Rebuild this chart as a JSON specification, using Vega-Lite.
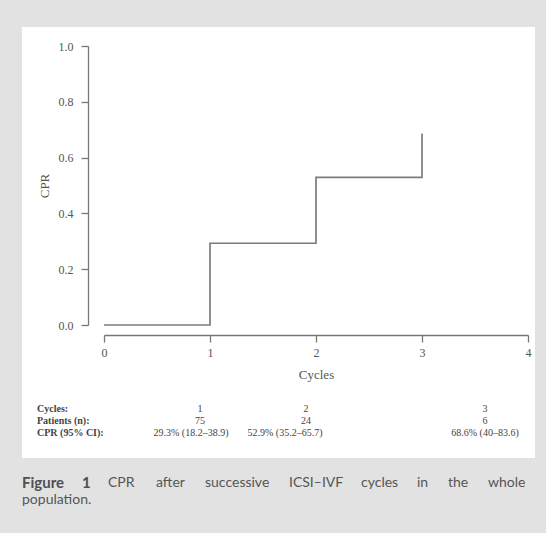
{
  "$schema": "https://vega.github.io/schema/vega-lite/v6.json",
  "width": 513,
  "height": 431,
  "autosize": {"type": "none"},
  "padding": {"left": 22, "top": 27, "right": 11, "bottom": 75},
  "background": "#e2e2e2",
  "config": {
    "view": {"fill": "white", "stroke": null},
    "axis": {
      "grid": false,
      "domainColor": "#777777",
      "domainWidth": 1.3,
      "tickColor": "#777777",
      "tickWidth": 1.3,
      "tickSize": 7,
      "labelColor": "#555555",
      "labelFont": "Liberation Serif",
      "labelFontSize": 12,
      "labelFlush": false,
      "labelOverlap": false,
      "titleColor": "#555555",
      "titleFont": "Liberation Serif",
      "titleFontSize": 13,
      "titleFontWeight": "normal"
    }
  },
  "datasets": {
    "cpr": [
      {"cycle": 0, "cpr": 0},
      {"cycle": 1, "cpr": 0.293},
      {"cycle": 2, "cpr": 0.529},
      {"cycle": 3, "cpr": 0.686}
    ],
    "counts": [
      {"row": "Cycles:", "cycle": 1, "value": "1"},
      {"row": "Cycles:", "cycle": 2, "value": "2"},
      {"row": "Cycles:", "cycle": 3, "value": "3"},
      {"row": "Patients (n):", "cycle": 1, "value": "75"},
      {"row": "Patients (n):", "cycle": 2, "value": "24"},
      {"row": "Patients (n):", "cycle": 3, "value": "6"}
    ],
    "rates": [
      {"row": "CPR (95% CI):", "cycle": 1, "value": "29.3% (18.2–38.9)"},
      {"row": "CPR (95% CI):", "cycle": 2, "value": "52.9% (35.2–65.7)"},
      {"row": "CPR (95% CI):", "cycle": 3, "value": "68.6% (40–83.6)"}
    ],
    "rows": [
      {"row": "Cycles:"},
      {"row": "Patients (n):"},
      {"row": "CPR (95% CI):"}
    ],
    "caption": [
      {"line": 1, "word": 1, "text": "Figure", "bold": true},
      {"line": 1, "word": 2, "text": "1", "bold": true},
      {"line": 1, "word": 3, "text": "CPR", "bold": false},
      {"line": 1, "word": 4, "text": "after", "bold": false},
      {"line": 1, "word": 5, "text": "successive", "bold": false},
      {"line": 1, "word": 6, "text": "ICSI–IVF", "bold": false},
      {"line": 1, "word": 7, "text": "cycles", "bold": false},
      {"line": 1, "word": 8, "text": "in", "bold": false},
      {"line": 1, "word": 9, "text": "the", "bold": false},
      {"line": 1, "word": 10, "text": "whole", "bold": false},
      {"line": 2, "word": 1, "text": "population.", "bold": false}
    ]
  },
  "layer": [
    {
      "data": {"name": "cpr"},
      "mark": {"type": "line", "interpolate": "step-after", "color": "#7c7c7c", "strokeWidth": 1.7},
      "encoding": {
        "x": {
          "field": "cycle",
          "type": "quantitative",
          "scale": {"domain": [0, 4], "range": [82, 506], "nice": false, "zero": false},
          "axis": {"values": [0, 1, 2, 3, 4], "format": "d", "title": "Cycles", "offset": -123, "labelPadding": 5, "titlePadding": 10}
        },
        "y": {
          "field": "cpr",
          "type": "quantitative",
          "scale": {"domain": [0, 1], "range": [298, 19], "nice": false},
          "axis": {"values": [0, 0.2, 0.4, 0.6, 0.8, 1], "format": ".1f", "title": "CPR", "offset": -66, "labelPadding": 8, "titlePadding": 7}
        }
      }
    },
    {
      "layer": [
        {
          "layer": [
            {
              "data": {"name": "rows"},
              "mark": {"type": "text", "align": "left", "baseline": "middle", "font": "Liberation Serif", "fontSize": 10, "fontWeight": "bold", "color": "#444444"},
              "encoding": {
                "x": {"datum": 0, "type": "quantitative", "scale": {"domain": [0, 1, 2, 3], "range": [15, 178, 284, 463]}, "axis": null},
                "y": {"field": "row", "type": "ordinal", "sort": null, "scale": {"type": "point", "domain": ["Cycles:", "Patients (n):", "CPR (95% CI):"], "range": [382, 406], "padding": 0}, "axis": null},
                "text": {"field": "row"}
              }
            },
            {
              "data": {"name": "counts"},
              "mark": {"type": "text", "align": "center", "baseline": "middle", "font": "Liberation Serif", "fontSize": 10, "color": "#444444"},
              "encoding": {
                "x": {"field": "cycle", "type": "quantitative", "scale": {"domain": [0, 1, 2, 3], "range": [15, 178, 284, 463]}, "axis": null},
                "y": {"field": "row", "type": "ordinal", "sort": null, "scale": {"type": "point", "domain": ["Cycles:", "Patients (n):", "CPR (95% CI):"], "range": [382, 406], "padding": 0}, "axis": null},
                "text": {"field": "value"}
              }
            }
          ]
        },
        {
          "data": {"name": "rates"},
          "mark": {"type": "text", "align": "center", "baseline": "middle", "font": "Liberation Serif", "fontSize": 10, "color": "#444444"},
          "encoding": {
            "x": {"field": "cycle", "type": "quantitative", "scale": {"domain": [1, 2, 3], "range": [169, 263, 463]}, "axis": null},
            "y": {"field": "row", "type": "ordinal", "sort": null, "scale": {"type": "point", "domain": ["Cycles:", "Patients (n):", "CPR (95% CI):"], "range": [382, 406], "padding": 0}, "axis": null},
            "text": {"field": "value"}
          }
        }
      ],
      "resolve": {"scale": {"x": "independent"}}
    },
    {
      "data": {"name": "caption"},
      "layer": [
        {
          "transform": [{"filter": "datum.bold"}],
          "mark": {"type": "text", "align": "left", "baseline": "middle", "font": "Lato", "fontSize": 15, "fontWeight": "bold", "color": "#505050"},
          "encoding": {
            "x": {"field": "word", "type": "quantitative", "scale": {"domain": [1, 2, 3, 4, 5, 6, 7, 8, 9, 10], "range": [0, 60, 86, 134, 183, 267, 339, 395, 426, 466]}, "axis": null},
            "y": {"field": "line", "type": "ordinal", "scale": {"type": "point", "domain": [1, 2], "range": [456, 473], "padding": 0}, "axis": null},
            "text": {"field": "text"}
          }
        },
        {
          "transform": [{"filter": "!datum.bold"}],
          "mark": {"type": "text", "align": "left", "baseline": "middle", "font": "Lato", "fontSize": 14, "color": "#555555"},
          "encoding": {
            "x": {"field": "word", "type": "quantitative", "scale": {"domain": [1, 2, 3, 4, 5, 6, 7, 8, 9, 10], "range": [0, 60, 86, 134, 183, 267, 339, 395, 426, 466]}, "axis": null},
            "y": {"field": "line", "type": "ordinal", "scale": {"type": "point", "domain": [1, 2], "range": [456, 473], "padding": 0}, "axis": null},
            "text": {"field": "text"}
          }
        }
      ]
    }
  ],
  "resolve": {"scale": {"x": "independent", "y": "independent"}}
}
